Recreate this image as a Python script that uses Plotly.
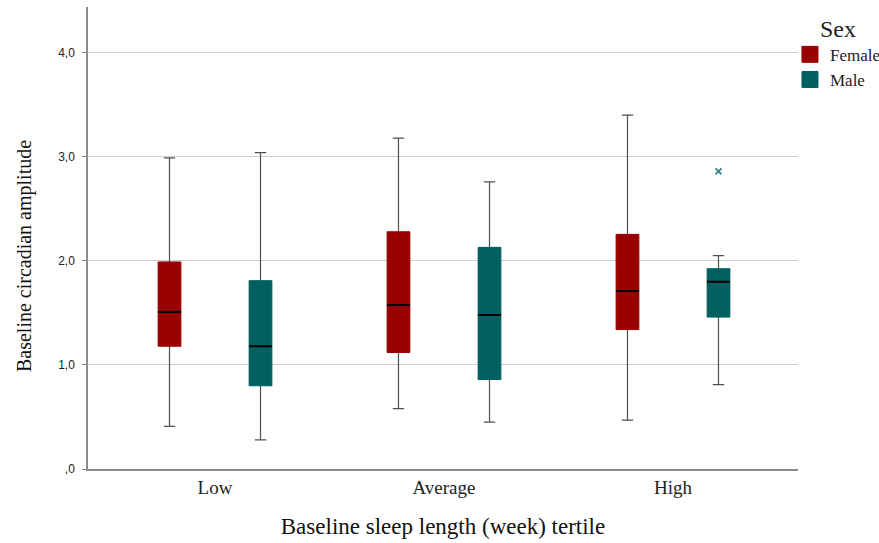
import plotly.graph_objects as go

categories = ["Low", "Average", "High"]

female_lower = [0.41, 0.58, 0.47]
female_q1 = [1.18, 1.12, 1.34]
female_median = [1.51, 1.575, 1.71]
female_q3 = [1.99, 2.28, 2.255]
female_upper = [2.99, 3.18, 3.40]

male_lower = [0.28, 0.45, 0.81]
male_q1 = [0.80, 0.86, 1.46]
male_median = [1.18, 1.48, 1.80]
male_q3 = [1.81, 2.13, 1.925]
male_upper = [3.04, 2.76, 2.05]

male_outlier_cat = ["High"]
male_outlier_val = [2.86]

y_tickvals = [0, 1, 2, 3, 4]
y_ticktext = [",0", "1,0", "2,0", "3,0", "4,0"]

FEMALE = "#990000"
MALE = "#005f5f"
WHISK = "#505050"
SERIF = "Liberation Serif"

fig = go.Figure()

series = [
    ("Female", FEMALE, female_lower, female_q1, female_median, female_q3, female_upper),
    ("Male", MALE, male_lower, male_q1, male_median, male_q3, male_upper),
]

# layer 1: whiskers
for name, col, lo, q1, med, q3, up in series:
    fig.add_trace(go.Box(
        name=name, x=categories, q1=med, median=med, q3=med,
        lowerfence=lo, upperfence=up, offsetgroup=name,
        line=dict(color=WHISK, width=1.2), fillcolor="rgba(0,0,0,0)",
        whiskerwidth=0.5, boxpoints=False, showlegend=False, hoverinfo="skip"))

# layer 2: filled boxes
for name, col, lo, q1, med, q3, up in series:
    fig.add_trace(go.Box(
        name=name, x=categories, q1=q1, median=med, q3=q3,
        lowerfence=q1, upperfence=q3, offsetgroup=name,
        line=dict(color=col, width=1), fillcolor=col,
        whiskerwidth=0, boxpoints=False, showlegend=False))

# layer 3: medians
for name, col, lo, q1, med, q3, up in series:
    fig.add_trace(go.Box(
        name=name, x=categories, q1=med, median=med, q3=med,
        lowerfence=med, upperfence=med, offsetgroup=name,
        line=dict(color="#000000", width=2), fillcolor="rgba(0,0,0,0)",
        whiskerwidth=0, boxpoints=False, showlegend=False, hoverinfo="skip"))

# outlier (male, High)
fig.add_trace(go.Box(
    name="Male", x=male_outlier_cat, y=male_outlier_val, offsetgroup="Male",
    boxpoints="all", pointpos=0, jitter=0,
    line=dict(color="rgba(0,0,0,0)", width=0), fillcolor="rgba(0,0,0,0)",
    marker=dict(symbol="x-thin", size=6, color="#2a8080",
                line=dict(width=1.6, color="#2a8080")),
    whiskerwidth=0, showlegend=False, hoverinfo="skip"))

# legend swatches
for name, col, *_ in series:
    fig.add_trace(go.Scatter(
        name=name, x=[None], y=[None], mode="markers",
        marker=dict(symbol="square", size=16, color=col,
                    line=dict(width=1, color=col)),
        showlegend=True, hoverinfo="skip"))

fig.update_layout(
    width=879, height=543,
    margin=dict(l=88, r=81, t=7, b=74, autoexpand=False),
    paper_bgcolor="white", plot_bgcolor="white",
    boxmode="group", boxgap=0.205, boxgroupgap=0.75,
    showlegend=True,
    legend=dict(
        title=dict(text="Sex", side="top center",
                   font=dict(family=SERIF, size=24, color="#222")),
        font=dict(family=SERIF, size=17, color="#222"),
        bgcolor="rgba(0,0,0,0)",
        x=0.9887, xanchor="left", y=1.003, yanchor="top",
        tracegroupgap=0, itemwidth=30,
    ),
    xaxis=dict(
        type="category", categoryorder="array", categoryarray=categories,
        range=[-0.5546, 2.5459], automargin=False,
        showgrid=False, showline=True, linecolor="#8a8a8a", linewidth=1.5,
        ticks="", ticklabelstandoff=0,
        tickfont=dict(family=SERIF, size=19, color="#222"),
        title=dict(text="Baseline sleep length (week) tertile",
                   font=dict(family=SERIF, size=23, color="#111"), standoff=21),
    ),
    yaxis=dict(
        range=[0, 4.44], tickvals=y_tickvals, ticktext=y_ticktext, automargin=False,
        showgrid=True, gridcolor="#cfcfcf", gridwidth=1, zeroline=False,
        showline=True, linecolor="#8a8a8a", linewidth=1.5,
        ticks="outside", ticklen=4, tickcolor="#8a8a8a", ticklabelstandoff=5,
        tickfont=dict(family="Liberation Sans", size=12, color="#222"),
    ),
    annotations=[dict(
        text="Baseline circadian amplitude", textangle=-90,
        xref="paper", yref="paper", x=-0.0901, y=0.461,
        xanchor="center", yanchor="middle", showarrow=False,
        font=dict(family=SERIF, size=20, color="#111"),
    )],
)

fig.write_html("out.html", config={"displayModeBar": False},
               post_script="document.body.style.margin='0px';")
